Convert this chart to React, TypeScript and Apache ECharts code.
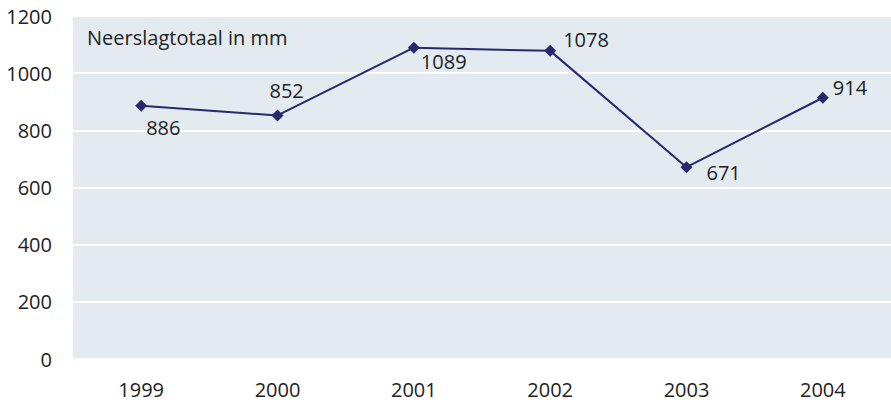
import React, { useEffect, useRef } from "react";
import * as echarts from "echarts";

const years = ["1999", "2000", "2001", "2002", "2003", "2004"];
const rainfall = [886, 852, 1089, 1078, 671, 914];
const labelOffsets: [number, number][] = [
  [-1, 22],
  [-14, -25],
  [1, 14],
  [7, -11],
  [14, 5],
  [4, -10],
];
const titleText = "Neerslagtotaal in mm";

const FONT = "'Open Sans', 'Noto Sans', sans-serif";

export default function App() {
  const ref = useRef<HTMLDivElement>(null);
  useEffect(() => {
    if (!ref.current) return;
    const chart = echarts.init(ref.current, undefined, { renderer: "svg" });
    chart.setOption({
      animation: false,
      backgroundColor: "#ffffff",
      title: {
        text: titleText,
        left: 87,
        top: 27,
        padding: 0,
        textStyle: { fontFamily: FONT, fontSize: 20, fontWeight: "normal", color: "#222" },
      },
      grid: {
        left: 73,
        right: 0,
        top: 16,
        bottom: 44,
        show: true,
        backgroundColor: "#e3ebf1",
        borderWidth: 0,
      },
      xAxis: {
        type: "category",
        data: years,
        boundaryGap: true,
        axisLine: { show: false },
        axisTick: { show: false },
        axisLabel: { fontFamily: FONT, fontSize: 20, color: "#222", margin: 20 },
        splitLine: { show: false },
      },
      yAxis: {
        type: "value",
        min: 0,
        max: 1200,
        interval: 200,
        axisLine: { show: false },
        axisTick: { show: false },
        axisLabel: {
          fontFamily: FONT,
          fontSize: 20,
          color: "#222",
          margin: 21,
          formatter: (v: number) => String(v),
        },
        splitLine: { show: true, lineStyle: { color: "#ffffff", width: 2 } },
      },
      series: [
        {
          type: "line",
          data: rainfall.map((v, i) => ({
            value: v,
            label: { offset: labelOffsets[i] },
          })),
          symbol: "diamond",
          symbolSize: 12,
          itemStyle: { color: "#27286e" },
          lineStyle: { color: "#27286e", width: 2 },
          label: {
            show: true,
            position: "right",
            distance: 0,
            fontFamily: FONT,
            fontSize: 20,
            color: "#222",
          },
        },
      ],
    });
    return () => chart.dispose();
  }, []);
  return (
    <div
      ref={ref}
      style={{ position: "fixed", left: 0, top: 0, width: 891, height: 403 }}
    />
  );
}
